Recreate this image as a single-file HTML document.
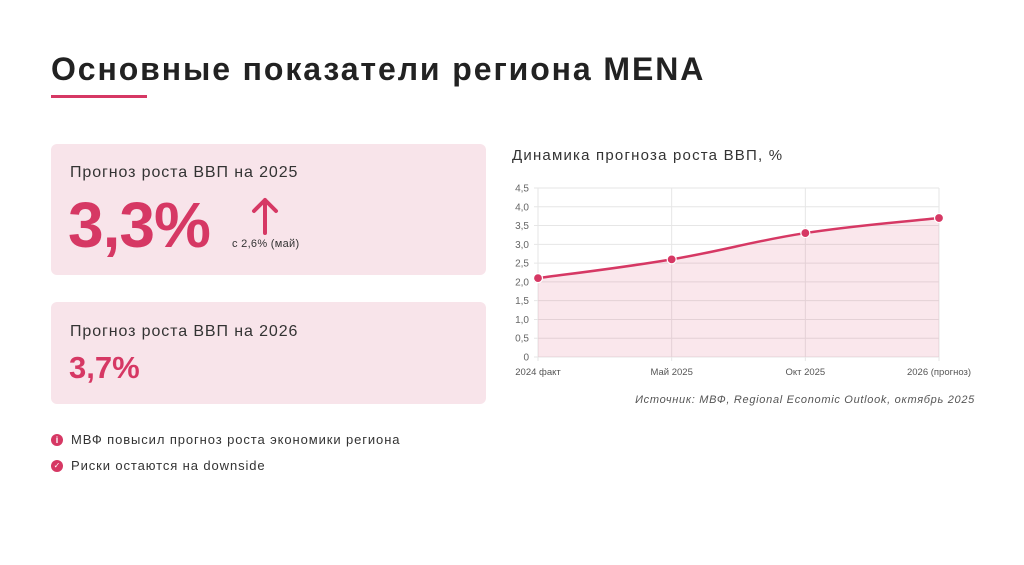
<!DOCTYPE html>
<html><head><meta charset="utf-8"><style>
body{margin:0;width:1024px;height:565px;background:#fff;font-family:"Liberation Sans",sans-serif;position:relative;overflow:hidden;color:#222}
.abs{position:absolute}
.card{position:absolute;left:51px;width:435px;background:#f8e4ea;border-radius:6px}
</style></head><body>
<div class="abs" style="left:51px;top:51px;font-size:32px;font-weight:bold;color:#222;letter-spacing:1.9px">Основные показатели региона MENA</div>
<div class="abs" style="left:51px;top:95px;width:96px;height:3px;background:#d63864"></div>

<div class="card" style="top:144px;height:131px">
  <div class="abs" style="left:19px;top:20px;font-size:16px;color:#333;letter-spacing:0.9px">Прогноз роста ВВП на 2025</div>
  <div class="abs" style="left:17px;top:44px;font-size:64px;font-weight:bold;color:#d63864;letter-spacing:-1px">3,3%</div>
  <svg class="abs" style="left:198px;top:52px" width="32" height="40"><path d="M16 37V4M5 15L16 4L27 15" stroke="#d63864" stroke-width="4" fill="none" stroke-linecap="round" stroke-linejoin="round"/></svg>
  <div class="abs" style="left:181px;top:94px;font-size:11px;color:#333;letter-spacing:0.3px">с 2,6% (май)</div>
</div>
<div class="card" style="top:302px;height:102px">
  <div class="abs" style="left:19px;top:21px;font-size:16px;color:#333;letter-spacing:0.9px">Прогноз роста ВВП на 2026</div>
  <div class="abs" style="left:18px;top:48px;font-size:31px;font-weight:bold;color:#d63864">3,7%</div>
</div>

<div class="abs" style="left:51px;top:432px;font-size:13px;color:#333;display:flex;align-items:center;letter-spacing:0.9px">
<span style="display:inline-block;width:12px;height:12px;border-radius:50%;background:#d63864;color:#fff;font-size:9px;font-weight:bold;text-align:center;line-height:12px;margin-right:8px;letter-spacing:0">i</span>МВФ повысил прогноз роста экономики региона</div>
<div class="abs" style="left:51px;top:458px;font-size:13px;color:#333;display:flex;align-items:center;letter-spacing:0.9px">
<span style="display:inline-block;width:12px;height:12px;border-radius:50%;background:#d63864;color:#fff;font-size:8px;text-align:center;line-height:12px;margin-right:8px;letter-spacing:0">✓</span>Риски остаются на downside</div>

<div class="abs" style="left:512px;top:147px;font-size:15px;color:#333;letter-spacing:1.2px">Динамика прогноза роста ВВП, %</div>
<svg class="abs" id="chart" style="left:0;top:0" width="1024" height="565"></svg>
<div class="abs" style="right:49px;top:394px;font-size:11px;font-style:italic;color:#555;letter-spacing:0.7px">Источник: МВФ, Regional Economic Outlook, октябрь 2025</div>

<script>
const categories=["2024 факт","Май 2025","Окт 2025","2026 (прогноз)"];
const values=[2.1,2.6,3.3,3.7];
const yTicks=[0,0.5,1.0,1.5,2.0,2.5,3.0,3.5,4.0,4.5];
const yTickLabels=["0","0,5","1,0","1,5","2,0","2,5","3,0","3,5","4,0","4,5"];
const svg=document.getElementById('chart');
const NS='http://www.w3.org/2000/svg';
const X0=538,X1=939,Y0=357,Y1=188,YMAX=4.5;
const x=i=>X0+(X1-X0)*i/(categories.length-1);
const y=v=>Y0-(Y0-Y1)*v/YMAX;
function mk(t,a){const e=document.createElementNS(NS,t);for(const k in a)e.setAttribute(k,a[k]);svg.appendChild(e);return e;}
yTicks.forEach((v,i)=>{
  const l=mk('line',{x1:X0-4,x2:X1,y1:y(v),y2:y(v),stroke:'#e6e6e6','stroke-width':1});
  
  
  const t=mk('text',{x:X0-9,y:y(v)+3.5,'text-anchor':'end','font-size':10,fill:'#666','font-family':'Liberation Sans, sans-serif'});
  t.textContent=yTickLabels[i];
  
  
});
categories.forEach((c,i)=>{
  const l=mk('line',{x1:x(i),x2:x(i),y1:Y1,y2:Y0+4,stroke:'#e6e6e6','stroke-width':1});
  
  
  const t=mk('text',{x:x(i),y:Y0+18,'text-anchor':'middle','font-size':9.5,fill:'#555','font-family':'Liberation Sans, sans-serif'});
  t.textContent=c;
  
  
});
const pts=values.map((v,i)=>[x(i),y(v)]);
let d=`M${pts[0][0]},${pts[0][1]}`;
for(let i=0;i<pts.length-1;i++){
  const p0=pts[i-1]||pts[i],p1=pts[i],p2=pts[i+1],p3=pts[i+2]||p2,k=0.2;
  d+=` C${p1[0]+(p2[0]-p0[0])*k},${p1[1]+(p2[1]-p0[1])*k} ${p2[0]-(p3[0]-p1[0])*k},${p2[1]-(p3[1]-p1[1])*k} ${p2[0]},${p2[1]}`;
}
const area=mk('path',{d:d+` L${x(values.length-1)},${Y0} L${X0},${Y0}Z`,fill:'rgba(214,56,100,0.12)'});


const line=mk('path',{d:d,fill:'none',stroke:'#d63864','stroke-width':2.5});


pts.forEach(p=>{
  const c=mk('circle',{cx:p[0],cy:p[1],r:4.5,fill:'#d63864',stroke:'#fff','stroke-width':1.2});
  
  
});
</script>
</body></html>
